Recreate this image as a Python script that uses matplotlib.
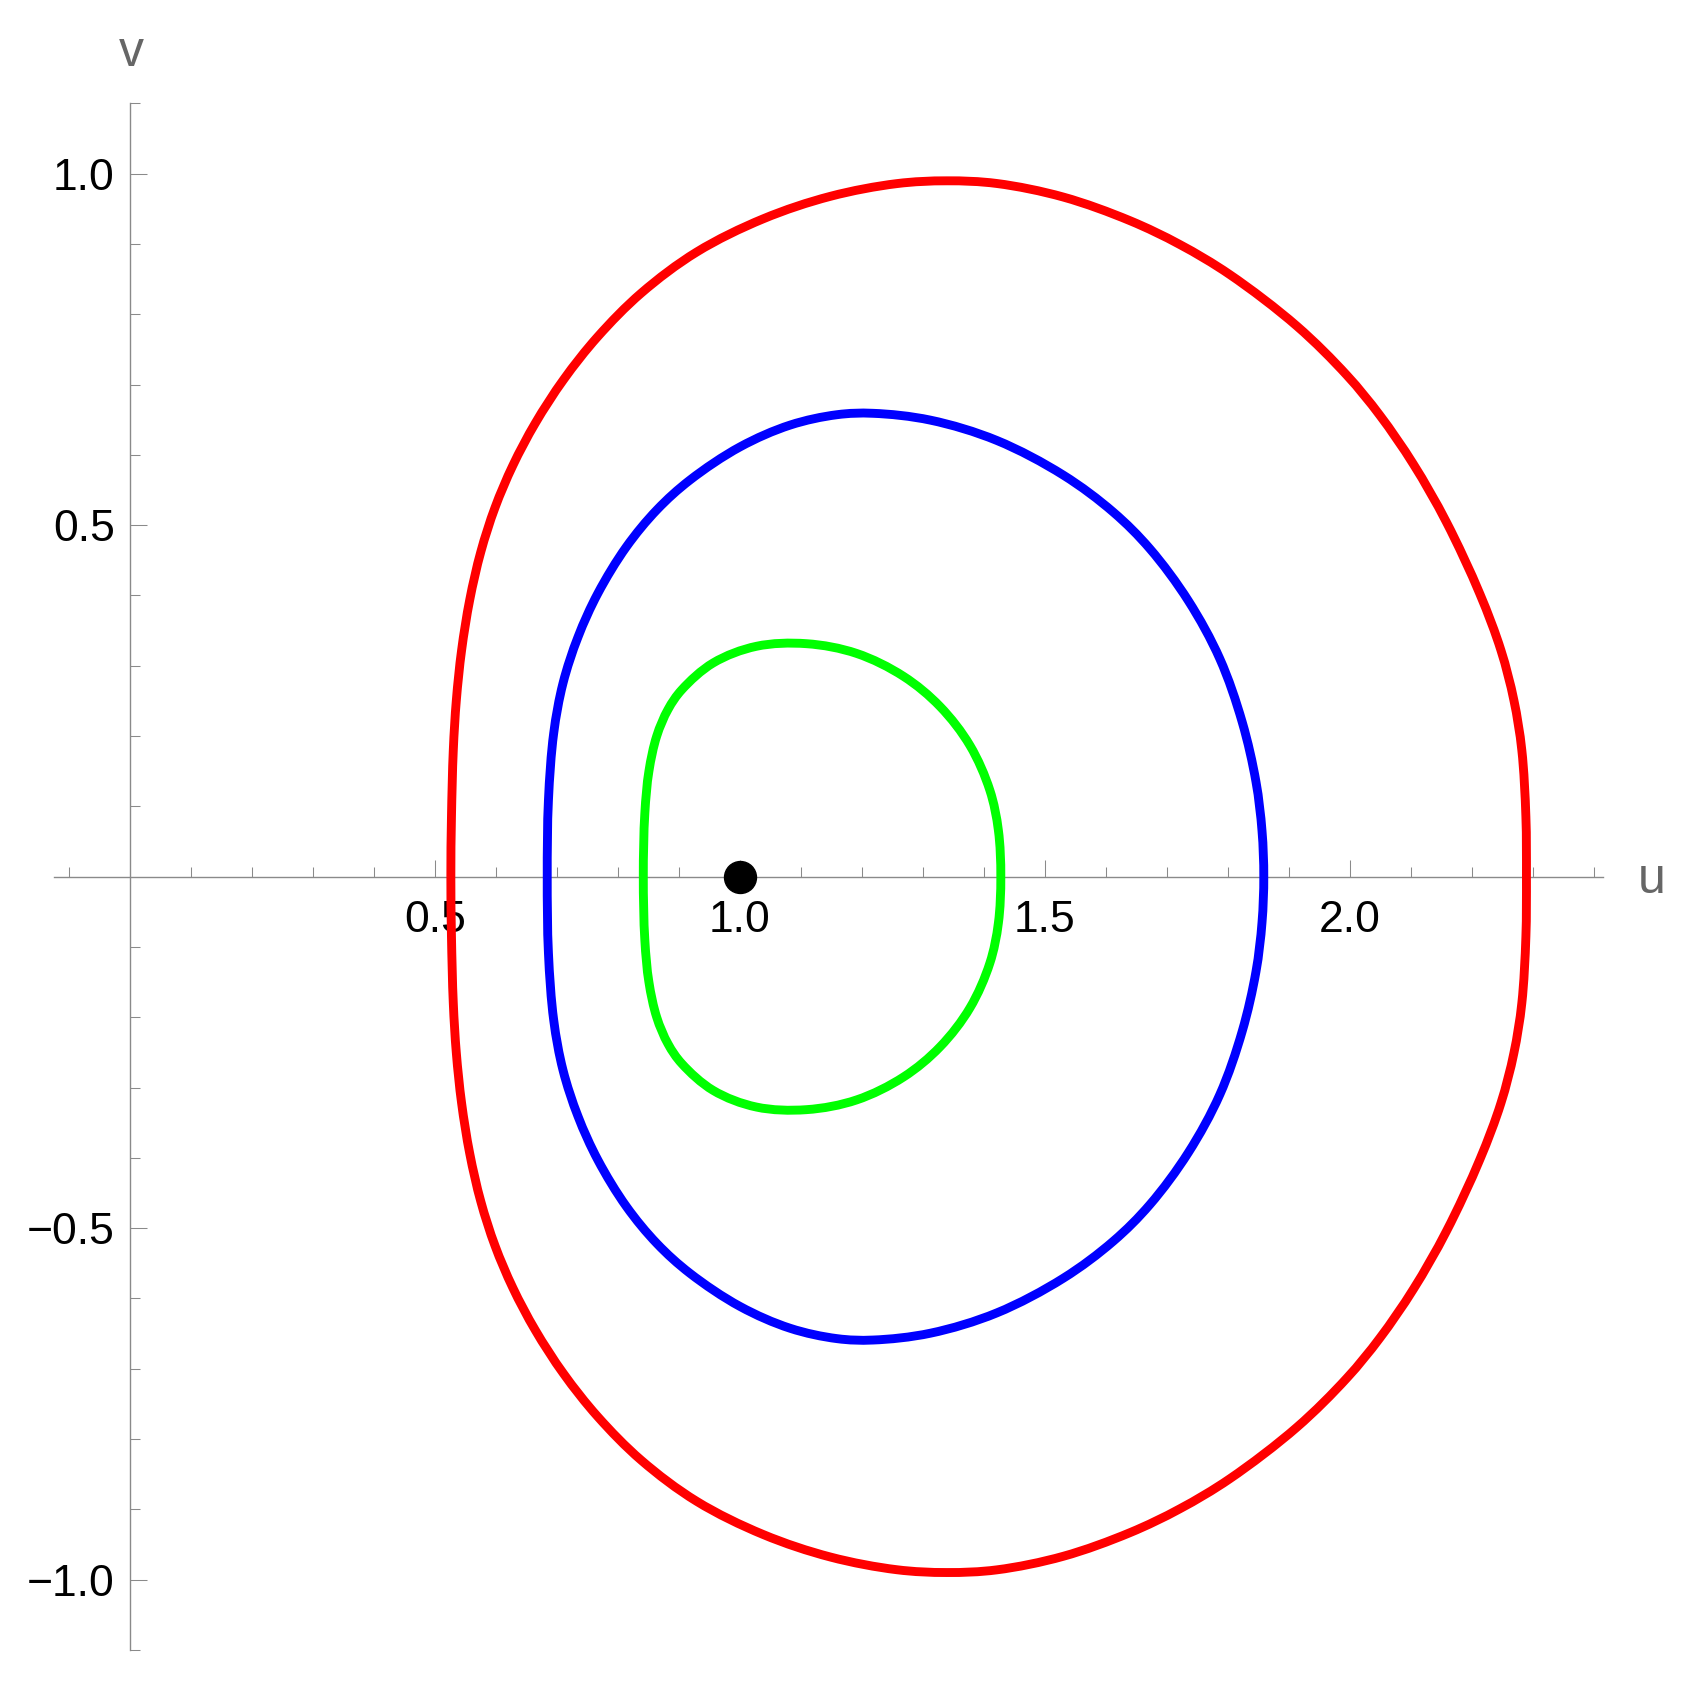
import numpy as np
import matplotlib
matplotlib.use('Agg')
import matplotlib.pyplot as plt
from matplotlib.path import Path
from matplotlib.patches import PathPatch

plt.rcParams['font.family'] = ['Liberation Sans', 'DejaVu Sans']

# upper halves of the three closed orbits (curves are symmetric in v)
red_u = [0.526, 0.527, 0.530, 0.535, 0.5436, 0.557, 0.5751, 0.5984, 0.6277, 0.6644, 0.7108,
         0.7667, 0.838, 0.929, 1.038, 1.148, 1.257, 1.339, 1.421, 1.530, 1.639, 1.721, 1.803,
         1.913, 1.995, 2.049, 2.104, 2.158, 2.213, 2.2475, 2.2687, 2.2817, 2.2884, 2.2893]
red_v = [0.000, 0.085, 0.180, 0.251, 0.322, 0.394, 0.462, 0.525, 0.585, 0.645, 0.707,
         0.768, 0.830, 0.8885, 0.9357, 0.9677, 0.9858, 0.9898, 0.986, 0.9667, 0.9332, 0.8992,
         0.8564, 0.7831, 0.7131, 0.6562, 0.5867, 0.5045, 0.4021, 0.322, 0.251, 0.180, 0.085,
         0.000]

blue_u = [0.684, 0.686, 0.6946, 0.7098, 0.7345, 0.767, 0.8136, 0.864, 0.918, 1.000, 1.082,
          1.159, 1.218, 1.312, 1.421, 1.530, 1.612, 1.672, 1.735, 1.7866, 1.8233, 1.8459,
          1.8558, 1.8587]
blue_v = [0.000, 0.109, 0.204, 0.275, 0.341, 0.403, 0.469, 0.522, 0.5642, 0.6113, 0.6423,
          0.6571, 0.6591, 0.6494, 0.6205, 0.5712, 0.5185, 0.4664, 0.3925, 0.310, 0.220, 0.135,
          0.065, 0.000]

green_u = [0.8415, 0.844, 0.8507, 0.8635, 0.8821, 0.9047, 0.956, 1.027, 1.109, 1.191, 1.268,
           1.328, 1.377, 1.4096, 1.4236, 1.4276]
green_v = [0.000, 0.090, 0.150, 0.200, 0.238, 0.266, 0.304, 0.3277, 0.3314, 0.3176, 0.285,
           0.242, 0.1866, 0.123, 0.066, 0.000]

eq_u, eq_v = [1.0], [0.0]

x_major = [0.5, 1.0, 1.5, 2.0]
y_major = [-1.0, -0.5, 0.5, 1.0]


def closed(u, v):
    u = np.array(u)
    v = np.array(v)
    # mirror the upper half, drop the duplicated end points
    uu = np.concatenate([u, u[::-1][1:-1]])
    vv = np.concatenate([v, -v[::-1][1:-1]])
    return np.column_stack([uu, vv])


def smooth_path(pts, k=703.0 / 610.0, alpha=0.5):
    # closed centripetal catmull-rom through the points, as bezier segments
    s = pts * [1.0, k]
    n = len(s)
    verts = [s[0]]
    codes = [Path.MOVETO]
    for i in range(n):
        p0, p1, p2, p3 = s[i - 1], s[i], s[(i + 1) % n], s[(i + 2) % n]
        d01 = np.linalg.norm(p1 - p0) ** alpha
        d12 = np.linalg.norm(p2 - p1) ** alpha
        d23 = np.linalg.norm(p3 - p2) ** alpha
        m1 = d12 * ((p1 - p0) / d01 - (p2 - p0) / (d01 + d12) + (p2 - p1) / d12)
        m2 = d12 * ((p2 - p1) / d12 - (p3 - p1) / (d12 + d23) + (p3 - p2) / d23)
        verts += [p1 + m1 / 3.0, p2 - m2 / 3.0, p2]
        codes += [Path.CURVE4] * 3
    verts = np.array(verts) / [1.0, k]
    return Path(verts, codes)


fig = plt.figure(figsize=(16.93, 16.85), dpi=100)
ax = fig.add_axes([0.03175, 0.02077, 0.9148, 0.9179])
ax.set_xlim(-0.125, 2.414)
ax.set_ylim(-1.1, 1.1)

for u, v, c in [(red_u, red_v, '#ff0000'), (blue_u, blue_v, '#0000ff'), (green_u, green_v, '#00ff00')]:
    patch = PathPatch(smooth_path(closed(u, v)), fill=False, edgecolor=c, lw=6.4,
                      joinstyle='round', zorder=3)
    ax.add_patch(patch)

ax.plot(eq_u, eq_v, 'o', c='k', ms=23, zorder=4, clip_on=False)

# mathematica style axes through the origin
gray = '#8a8a8a'
for s in ['top', 'right']:
    ax.spines[s].set_visible(False)
for s in ['left', 'bottom']:
    ax.spines[s].set_position(('data', 0))
    ax.spines[s].set_color(gray)
    ax.spines[s].set_linewidth(1.0)

xminor = [round(t, 1) for t in np.arange(-0.1, 2.45, 0.1)]
xminor = [t for t in xminor if abs(t) > 1e-9 and t not in x_major]
yminor = [round(t, 1) for t in np.arange(-1.1, 1.15, 0.1)]
yminor = [t for t in yminor if abs(t) > 1e-9 and t not in y_major]

ax.set_xticks(x_major)
ax.set_xticklabels(['%.1f' % t for t in x_major])
ax.set_xticks(xminor, minor=True)
ax.set_yticks(y_major)
ax.set_yticklabels([('%.1f' % t).replace('-', '\u2212') for t in y_major])
ax.set_yticks(yminor, minor=True)

ax.tick_params(which='both', direction='in', color=gray, width=0.75)
ax.tick_params(which='major', length=12.5)
ax.tick_params(which='minor', length=7.5)
ax.tick_params(axis='x', which='major', labelsize=32, pad=17)
ax.tick_params(axis='y', which='major', labelsize=32, pad=11)

fig.text(0.0774, 0.9608, 'v', ha='center', va='baseline', fontsize=36, color='#666666')
fig.text(0.9758, 0.4702, 'u', ha='center', va='baseline', fontsize=36, color='#666666')

fig.savefig('out.png', dpi=100, facecolor='white')
